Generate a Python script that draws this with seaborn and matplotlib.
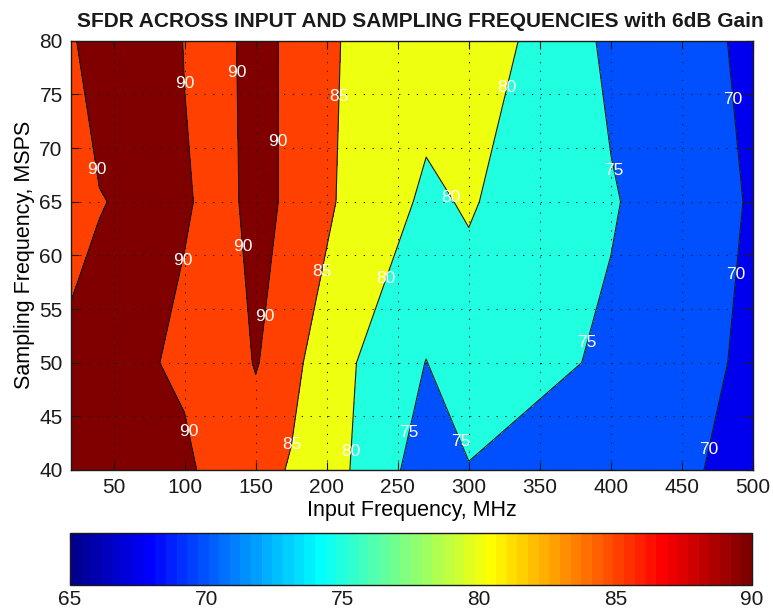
import numpy as np
import pandas as pd
import seaborn as sns
import matplotlib
matplotlib.use("Agg")
import matplotlib.pyplot as plt
from matplotlib.colors import ListedColormap, Normalize
from matplotlib.cm import ScalarMappable

input_freq = [20, 40, 70, 100, 125, 150, 175, 220, 270, 300, 400, 500]
sampling_freq = [40, 50, 65, 80]
sfdr_40 = [92.0, 93.0, 92.0, 90.89, 88.27, 86.5, 84.68, 79.58, 72.42, 74.73, 74.6, 67.58]
sfdr_50 = [90.92, 93.18, 90.57, 89.21, 85.95, 90.43, 86.14, 80.1, 74.9, 78.06, 74.21, 69.09]
sfdr_65 = [88.5, 89.62, 91.69, 90.34, 88.95, 90.94, 89.46, 83.09, 79.31, 80.37, 75.395, 69.59]
sfdr_80 = [89.0, 94.0, 93.0, 89.85, 89.0, 91.16, 89.34, 83.73, 81.8, 83.18, 74.04, 69.11]

contour_levels = [70, 75, 80, 85, 90]
cbar_ticks = [65, 70, 75, 80, 85, 90]
x_ticks = [50, 100, 150, 200, 250, 300, 350, 400, 450, 500]
y_ticks = [40, 45, 50, 55, 60, 65, 70, 75, 80]

# where the inline labels sit
label_spots = [(38, 68), (100, 76), (136, 77), (166, 70.6), (140, 60.8), (99.5, 59.5),
               (155, 54.3), (102, 43.6), (208.6, 74.8), (196, 58.5), (172.7, 42.4),
               (326, 75.7), (289, 65.5), (241.7, 57.8), (216.3, 41.7), (402, 67.9),
               (384.5, 51.8), (256.4, 43.5), (294.5, 42.7), (486, 74.5), (489, 58.2),
               (468.3, 41.9)]

sns.set_theme(style="ticks")
plt.rcParams["font.family"] = ["Liberation Sans", "DejaVu Sans"]
plt.rcParams["text.color"] = "black"
plt.rcParams["axes.labelcolor"] = "black"

# matlab style jet(64)
k = np.arange(1, 65) / 64
jet_rgb = np.clip(np.stack([np.minimum(4 * k - 1.5, -4 * k + 4.5),
                            np.minimum(4 * k - 0.5, -4 * k + 3.5),
                            np.minimum(4 * k + 0.5, -4 * k + 2.5)], axis=1), 0, 1)
jet64 = ListedColormap(jet_rgb)
cmin, cmax = 65, 90


def level_color(v):
    idx = int(np.clip(np.floor((v - cmin) / (cmax - cmin) * 64), 0, 63))
    return jet_rgb[idx]


rows = []
for fs, vals in zip(sampling_freq, [sfdr_40, sfdr_50, sfdr_65, sfdr_80]):
    for fin, v in zip(input_freq, vals):
        rows.append({"fs": fs, "fin": fin, "sfdr": v})
df = pd.DataFrame(rows)
grid = df.pivot(index="fs", columns="fin", values="sfdr")
X, Y = np.meshgrid(grid.columns.values, grid.index.values)
Z = grid.values

zmin, zmax = Z.min(), Z.max()
fill_levels = [zmin - 0.01] + contour_levels + [zmax + 0.01]
fill_colors = [level_color(zmin)] + [level_color(v) for v in contour_levels]

fig = plt.figure(figsize=(7.73, 6.08), dpi=100)
ax = fig.add_axes([0.0918, 0.227, 0.8823, 0.706])

ax.contourf(X, Y, Z, levels=fill_levels, colors=fill_colors)
cs = ax.contour(X, Y, Z, levels=contour_levels, colors="k", linewidths=0.8)
labels = ax.clabel(cs, contour_levels, inline=False, fontsize=12.5, colors="white",
                   fmt="%d", manual=label_spots)
for t in labels:
    t.set_rotation(0)

ax.set_xlim(20, 500)
ax.set_ylim(40, 80)
ax.set_xticks(x_ticks)
ax.set_yticks(y_ticks)
ax.set_axisbelow(False)
ax.grid(True, color="k", linestyle=(0, (1.2, 7.3)), linewidth=0.75)
ax.tick_params(direction="in", top=True, right=True, length=6, width=0.8,
               labelsize=15, pad=6, colors="k", labelcolor="k")
for s in ax.spines.values():
    s.set_linewidth(1.0)
    s.set_color("k")
ax.set_xlabel("Input Frequency, MHz", fontsize=15.5, labelpad=2)
ax.set_ylabel("Sampling Frequency, MSPS", fontsize=15.5, labelpad=3)
ax.set_title("SFDR ACROSS INPUT AND SAMPLING FREQUENCIES with 6dB Gain",
             fontsize=15, fontweight="bold", pad=10, color="k", x=0.512)

cax = fig.add_axes([0.0906, 0.038, 0.882, 0.0855])
sm = ScalarMappable(norm=Normalize(cmin, cmax), cmap=jet64)
cb = fig.colorbar(sm, cax=cax, orientation="horizontal", ticks=cbar_ticks)
cax.tick_params(direction="in", top=True, bottom=True, length=6, width=0.8,
                labelsize=15, colors="k", labelcolor="k")
cb.outline.set_linewidth(1.0)
cb.outline.set_edgecolor("k")

fig.savefig("out.png", dpi=100)
